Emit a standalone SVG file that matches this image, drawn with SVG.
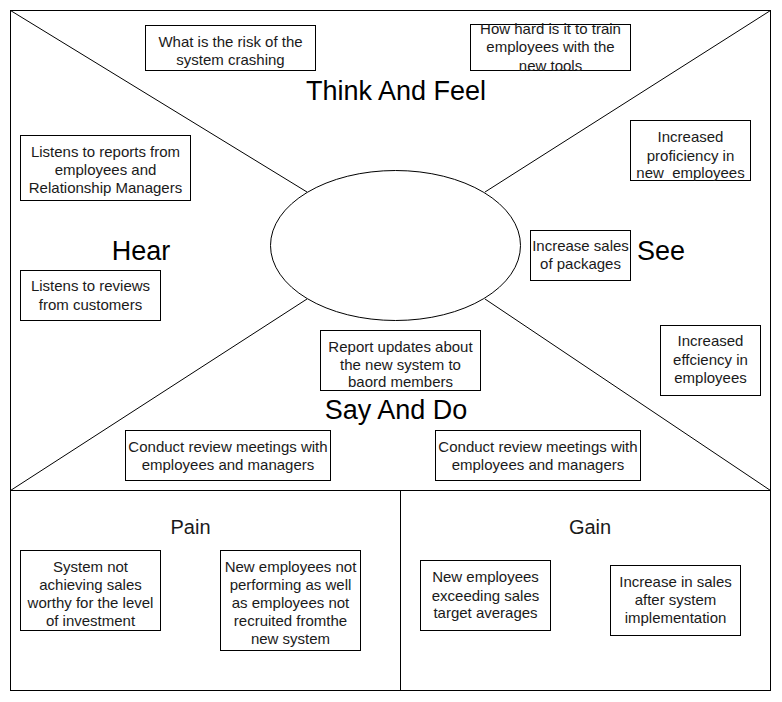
<svg xmlns="http://www.w3.org/2000/svg" width="782" height="702" viewBox="0 0 782 702">
<style>
.box{fill:#fff;stroke:#000;stroke-width:1}
.frame{fill:none;stroke:#000;stroke-width:1}
.ln{stroke:#000;stroke-width:1;fill:none}
.t{font-family:"Liberation Sans",Arial,sans-serif;font-size:15px;fill:#1a1a1a;text-anchor:middle}
.big{font-family:"Liberation Sans",Arial,sans-serif;font-size:27px;fill:#000;text-anchor:middle}
.mid{font-family:"Liberation Sans",Arial,sans-serif;font-size:20px;fill:#1a1a1a;text-anchor:middle}
</style>
<rect width="782" height="702" fill="#fff"/>
<g id="frames">
<rect class="frame" x="10.5" y="10.5" width="760" height="480"/>
<rect class="frame" x="10.5" y="490.5" width="390" height="200"/>
<rect class="frame" x="400.5" y="490.5" width="370" height="200"/>
</g>
<g id="connectors">
<line class="ln" x1="10.5" y1="10.5" x2="307" y2="192"/>
<line class="ln" x1="770.5" y1="10.5" x2="485" y2="192"/>
<line class="ln" x1="10.5" y1="490.5" x2="307" y2="299"/>
<line class="ln" x1="770.5" y1="490.5" x2="485" y2="299"/>
</g>
<g id="center">
<ellipse class="box" cx="395.5" cy="245.5" rx="125" ry="75"/>
</g>
<g id="label-think"><text class="big" x="396" y="99.5">Think And Feel</text></g>
<g id="label-hear"><text class="big" x="141" y="259.5">Hear</text></g>
<g id="label-see"><text class="big" x="661" y="259.5">See</text></g>
<g id="label-say"><text class="big" x="396" y="418.5">Say And Do</text></g>
<g id="label-pain"><text class="mid" x="190.5" y="534">Pain</text></g>
<g id="label-gain"><text class="mid" x="590" y="534">Gain</text></g>

<g id="n-risk">
<rect class="box" x="145.5" y="25.5" width="170" height="45"/>
<text class="t" x="230.5" y="47">What is the risk of the</text>
<text class="t" x="230.5" y="64.5">system crashing</text>
</g>
<g id="n-train">
<rect class="box" x="470.5" y="24.5" width="160" height="46"/>
<text class="t" x="550.5" y="33.5">How hard is it to train</text>
<text class="t" x="550.5" y="52">employees with the</text>
<text class="t" x="550.5" y="70.5">new tools</text>
</g>
<g id="n-reports">
<rect class="box" x="20.5" y="135.5" width="170" height="65"/>
<text class="t" x="105.5" y="157">Listens to reports from</text>
<text class="t" x="105.5" y="175">employees and</text>
<text class="t" x="105.5" y="193">Relationship Managers</text>
</g>
<g id="n-reviews">
<rect class="box" x="20.5" y="270.5" width="140" height="50"/>
<text class="t" x="90.5" y="291">Listens to reviews</text>
<text class="t" x="90.5" y="309.5">from customers</text>
</g>
<g id="n-proficiency">
<rect class="box" x="630.5" y="120.5" width="120" height="60"/>
<text class="t" x="690.5" y="142">Increased</text>
<text class="t" x="690.5" y="160.5">proficiency in</text>
<text class="t" x="690.5" y="178" xml:space="preserve">new  employees</text>
</g>
<g id="n-packages">
<rect class="box" x="530.5" y="230.5" width="100" height="50"/>
<text class="t" x="580.5" y="250.5">Increase sales</text>
<text class="t" x="580.5" y="269">of packages</text>
</g>
<g id="n-efficiency">
<rect class="box" x="660.5" y="325.5" width="100" height="70"/>
<text class="t" x="710.5" y="346">Increased</text>
<text class="t" x="710.5" y="364.5">effciency in</text>
<text class="t" x="710.5" y="382.5">employees</text>
</g>
<g id="n-report">
<rect class="box" x="320.5" y="330.5" width="160" height="60"/>
<text class="t" x="400.5" y="351.5">Report updates about</text>
<text class="t" x="400.5" y="369.5">the new system to</text>
<text class="t" x="400.5" y="387">baord members</text>
</g>
<g id="n-meet-left">
<rect class="box" x="125.5" y="430.5" width="205" height="50"/>
<text class="t" x="228" y="451.5">Conduct review meetings with</text>
<text class="t" x="228" y="469.5">employees and managers</text>
</g>
<g id="n-meet-right">
<rect class="box" x="435.5" y="430.5" width="205" height="50"/>
<text class="t" x="538" y="451.5">Conduct review meetings with</text>
<text class="t" x="538" y="469.5">employees and managers</text>
</g>
<g id="n-pain1">
<rect class="box" x="20.5" y="550.5" width="140" height="80"/>
<text class="t" x="90.5" y="572">System not</text>
<text class="t" x="90.5" y="589.5">achieving sales</text>
<text class="t" x="90.5" y="608">worthy for the level</text>
<text class="t" x="90.5" y="625.5">of investment</text>
</g>
<g id="n-pain2">
<rect class="box" x="220.5" y="550.5" width="140" height="100"/>
<text class="t" x="290.5" y="572">New employees not</text>
<text class="t" x="290.5" y="589.5">performing as well</text>
<text class="t" x="290.5" y="607.5">as employees not</text>
<text class="t" x="290.5" y="625.5">recruited fromthe</text>
<text class="t" x="290.5" y="643.5">new system</text>
</g>
<g id="n-gain1">
<rect class="box" x="420.5" y="560.5" width="130" height="70"/>
<text class="t" x="485.5" y="582">New employees</text>
<text class="t" x="485.5" y="600.5">exceeding sales</text>
<text class="t" x="485.5" y="618">target averages</text>
</g>
<g id="n-gain2">
<rect class="box" x="610.5" y="565.5" width="130" height="70"/>
<text class="t" x="675.5" y="587">Increase in sales</text>
<text class="t" x="675.5" y="604.5">after system</text>
<text class="t" x="675.5" y="622.5">implementation</text>
</g>
</svg>
